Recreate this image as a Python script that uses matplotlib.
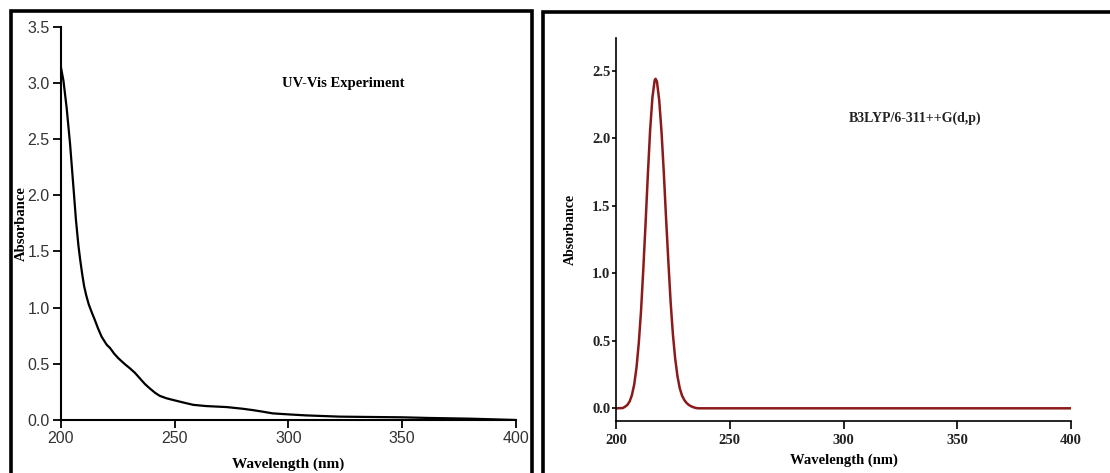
import matplotlib
matplotlib.use("Agg")
import matplotlib.pyplot as plt
from matplotlib.patches import Rectangle

# ---- Data: experimental UV-Vis spectrum (left) ----
exp_wavelength = [200, 201.2, 202.6, 204.1, 205.6, 206.7, 207.8, 208.6, 209.5, 210.3,
                  211.2, 212.3, 213.6, 215, 216.5, 218.0, 220.2, 221.7, 223.5, 225.3,
                  228, 230.4, 232.6, 234.8, 237, 239.2, 241.4, 243.5, 246.5, 250,
                  254, 258.2, 263.9, 272.9, 280, 284.4, 288.5, 293.1, 300, 307.7,
                  322.4, 340, 350, 362, 379.4, 390, 400]
exp_absorbance = [3.15, 3.02, 2.78, 2.46, 2.07, 1.78, 1.55, 1.42, 1.29, 1.19,
                  1.11, 1.03, 0.96, 0.89, 0.81, 0.74, 0.67, 0.64, 0.59, 0.55,
                  0.50, 0.46, 0.42, 0.37, 0.32, 0.28, 0.243, 0.215, 0.193, 0.175,
                  0.155, 0.135, 0.124, 0.115, 0.100, 0.088, 0.075, 0.059, 0.050, 0.041,
                  0.030, 0.026, 0.024, 0.018, 0.012, 0.006, 0.0]

# ---- Data: computed B3LYP/6-311++G(d,p) spectrum (right) ----
calc_wavelength = [200, 203, 204, 205, 206, 207, 208, 209, 210, 211, 212, 213, 214, 215,
                   216, 217, 217.4, 218, 219, 220, 221, 222, 223, 224, 225, 226, 227,
                   228, 229, 230, 231, 232, 233, 234, 235, 236, 400]
calc_absorbance = [0.0, 0.002, 0.012, 0.025, 0.051, 0.098, 0.176, 0.30, 0.48, 0.72, 1.03,
                   1.37, 1.73, 2.06, 2.30, 2.43, 2.44, 2.42, 2.28, 2.05, 1.75, 1.41,
                   1.09, 0.79, 0.55, 0.37, 0.24, 0.15, 0.095, 0.062, 0.040, 0.025,
                   0.015, 0.008, 0.003, 0.0, 0.0]

x_ticks = [200, 250, 300, 350, 400]
left_yticks = [0.0, 0.5, 1.0, 1.5, 2.0, 2.5, 3.0, 3.5]
right_yticks = [0.0, 0.5, 1.0, 1.5, 2.0, 2.5]

W, H = 1110, 473
fig = plt.figure(figsize=(W / 100, H / 100), dpi=100)

serif = ["Liberation Serif", "DejaVu Serif"]
sans = ["Liberation Sans", "DejaVu Sans"]

# Panel frames
fig.patches.append(Rectangle((11 / W, -0.05), (532 - 11) / W, 1 - 11 / H + 0.05,
                             transform=fig.transFigure, fill=False, lw=2.6,
                             edgecolor="black", zorder=0))
fig.patches.append(Rectangle((543 / W, -0.05), 0.6, 1 - 12 / H + 0.05,
                             transform=fig.transFigure, fill=False, lw=2.6,
                             edgecolor="black", zorder=0))

# ---- Left axes ----
ax1 = fig.add_axes([60.7 / W, 1 - 420 / H, 455.3 / W, (420 - 26.7) / H])
ax1.plot(exp_wavelength, exp_absorbance, color="black", lw=1.6)
ax1.set_xlim(200, 400)
ax1.set_ylim(0, 3.5)
ax1.set_xticks(x_ticks)
ax1.set_yticks(left_yticks)
ax1.set_yticklabels([f"{v:.1f}" for v in left_yticks])
for s in ["top", "right"]:
    ax1.spines[s].set_visible(False)
for s in ["left", "bottom"]:
    ax1.spines[s].set_linewidth(1.5)
ax1.tick_params(direction="out", length=6, width=1.3, labelsize=11.5,
                labelcolor="#333333", pad=2)
for lab in ax1.get_xticklabels() + ax1.get_yticklabels():
    lab.set_family(sans)
ax1.set_xlabel("Wavelength (nm)", fontfamily=serif, fontweight="bold",
               fontsize=11, labelpad=8)
ax1.set_ylabel("Absorbance", fontfamily=serif, fontweight="bold",
               fontsize=10.5)
ax1.yaxis.set_label_coords((28 - 60.7) / 455.3, 0.5)
ax1.text(0.62, 0.855, "UV-Vis Experiment", transform=ax1.transAxes,
         ha="center", va="center", fontfamily=serif, fontweight="bold",
         fontsize=10.5)

# ---- Right axes ----
ax2 = fig.add_axes([616 / W, 1 - 421 / H, 455 / W, (421 - 38.3) / H])
ax2.plot(calc_wavelength, calc_absorbance, color="#8b1a1a", lw=1.8)
ax2.set_xlim(200, 400)
ax2.set_ylim(-0.094, 2.74)
ax2.set_xticks(x_ticks)
ax2.set_yticks(right_yticks)
ax2.set_yticklabels([f"{v:.1f}" for v in right_yticks])
for s in ["top", "right"]:
    ax2.spines[s].set_visible(False)
for s in ["left", "bottom"]:
    ax2.spines[s].set_linewidth(1.2)
ax2.tick_params(axis="x", direction="out", length=6, width=1.2, labelsize=10.5,
                pad=3)
ax2.tick_params(axis="y", direction="out", length=3, width=1.2, labelsize=10.5,
                pad=1)
for lab in ax2.get_xticklabels() + ax2.get_yticklabels():
    lab.set_family(serif)
    lab.set_fontweight("bold")
    lab.set_color("#222222")
ax2.set_xlabel("Wavelength (nm)", fontfamily=serif, fontweight="bold",
               fontsize=10.5, labelpad=5)
ax2.set_ylabel("Absorbance", fontfamily=serif, fontweight="bold",
               fontsize=10)
ax2.yaxis.set_label_coords((577 - 616) / 455, 0.5)
fig.text(915 / W, 1 - 118 / H, "B3LYP/6-311++G(d,p)", ha="center",
         va="center", fontfamily=serif, fontweight="bold", fontsize=10,
         color="#222222")

fig.savefig("out.png", dpi=100)
